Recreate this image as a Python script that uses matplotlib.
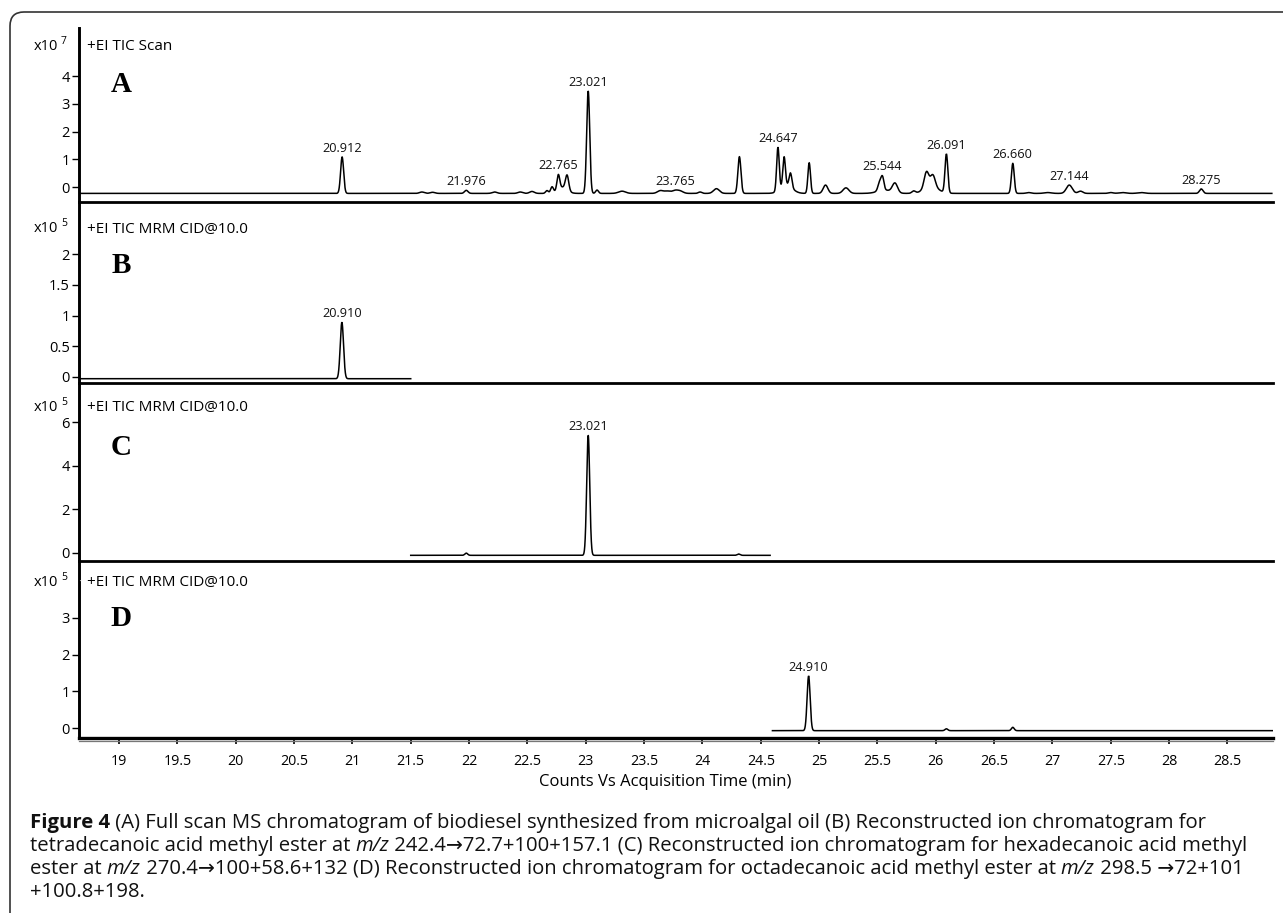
import numpy as np
import matplotlib
matplotlib.use("Agg")
import matplotlib.pyplot as plt
from matplotlib.patches import FancyBboxPatch
from matplotlib.lines import Line2D
from matplotlib.transforms import IdentityTransform

plt.rcParams['font.family'] = ['Open Sans', 'DejaVu Sans']

W, H, DPI = 1283, 913, 100

# ------------------------------------------------------------------ data
x_ticks = [19, 19.5, 20, 20.5, 21, 21.5, 22, 22.5, 23, 23.5, 24, 24.5,
           25, 25.5, 26, 26.5, 27, 27.5, 28, 28.5]
x_tick_labels = ['19', '19.5', '20', '20.5', '21', '21.5', '22', '22.5', '23',
                 '23.5', '24', '24.5', '25', '25.5', '26', '26.5', '27',
                 '27.5', '28', '28.5']
x_label = 'Counts Vs Acquisition Time (min)'

# Panel A: full scan TIC (x10^7) - peak table: retention time, height above baseline, width
a_rt = [20.912, 21.596, 21.687, 21.976, 22.219, 22.439, 22.539, 22.668, 22.711,
        22.765, 22.800, 22.840, 23.021, 23.097, 23.311, 23.640, 23.700, 23.765,
        23.810, 23.980, 24.120, 24.317, 24.647, 24.700, 24.720, 24.755, 24.915,
        25.055, 25.230, 25.520, 25.544, 25.560, 25.650, 25.810, 25.920, 25.960,
        25.975, 26.091, 26.660, 26.796, 26.960, 27.144, 27.240, 27.500, 27.600,
        27.760, 28.275]
a_height = [1.31, 0.05, 0.04, 0.11, 0.05, 0.05, 0.07, 0.10, 0.22,
            0.53, 0.22, 0.53, 3.69, 0.12, 0.08, 0.10, 0.08, 0.10,
            0.08, 0.05, 0.17, 1.32, 1.56, 1.04, 0.30, 0.50, 1.10,
            0.30, 0.20, 0.32, 0.42, 0.12, 0.34, 0.08, 0.58, 0.25,
            0.42, 1.40, 1.08, 0.03, 0.03, 0.30, 0.08, 0.03, 0.03,
            0.03, 0.16]
a_width = [0.013, 0.02, 0.02, 0.015, 0.02, 0.02, 0.02, 0.012, 0.012,
           0.012, 0.04, 0.014, 0.013, 0.012, 0.03, 0.025, 0.025, 0.025,
           0.025, 0.015, 0.025, 0.013, 0.011, 0.011, 0.05, 0.012, 0.011,
           0.02, 0.025, 0.015, 0.012, 0.06, 0.022, 0.015, 0.02, 0.06,
           0.02, 0.012, 0.012, 0.02, 0.03, 0.025, 0.02, 0.02, 0.03,
           0.03, 0.015]
a_baseline = -0.23
a_span = (18.66, 28.88)
a_peak_labels = ['20.912', '21.976', '22.765', '23.021', '23.765', '24.647',
                 '25.544', '26.091', '26.660', '27.144', '28.275']

# Panel B: MRM (x10^5)
b_rt = [20.910]
b_height = [0.92]
b_width = [0.014]
b_baseline = -0.03
b_span = (18.66, 21.5)
b_peak_labels = ['20.910']

# Panel C: MRM (x10^5)
c_rt = [21.976, 23.021, 24.310]
c_height = [0.10, 5.50, 0.06]
c_width = [0.012, 0.013, 0.012]
c_baseline = -0.11
c_span = (21.5, 24.58)
c_peak_labels = ['23.021']

# Panel D: MRM (x10^5)
d_rt = [24.910, 26.091, 26.660]
d_height = [1.49, 0.05, 0.09]
d_width = [0.013, 0.012, 0.012]
d_baseline = -0.07
d_span = (24.60, 28.89)
d_peak_labels = ['24.910']

panel_titles = ['+EI TIC Scan', '+EI TIC MRM CID@10.0', '+EI TIC MRM CID@10.0',
                '+EI TIC MRM CID@10.0']
panel_letters = ['A', 'B', 'C', 'D']
panel_exponents = ['7', '5', '5', '5']
a_yticks = [0, 1, 2, 3, 4]
b_yticks = [0, 0.5, 1, 1.5, 2]
c_yticks = [0, 2, 4, 6]
d_yticks = [0, 1, 2, 3]

caption_lines = [
    [("Figure 4", 'b'), (" (A) Full scan MS chromatogram of biodiesel synthesized from microalgal oil (B) Reconstructed ion chromatogram for", 'n')],
    [("tetradecanoic acid methyl ester at ", 'n'), ("m/z", 'i'), (" 242.4\u219272.7+100+157.1 (C) Reconstructed ion chromatogram for hexadecanoic acid methyl", 'n')],
    [("ester at ", 'n'), ("m/z", 'i'), (" 270.4\u2192100+58.6+132 (D) Reconstructed ion chromatogram for octadecanoic acid methyl ester at ", 'n'), ("m/z", 'i'), (" 298.5 \u219272+101", 'n')],
    [("+100.8+198.", 'n')],
]

# ------------------------------------------------------------------ layout (pixels)
ax_left, ax_right = 79, 1273
panel_px = [(28, 202), (202, 383), (383, 561), (561, 738)]
ylims = [(-0.54, 5.73), (-0.10, 2.85), (-0.37, 7.79), (-0.27, 4.55)]
xlim = (18.657, 28.89)
letter_y = [85, 265, 447, 618]
head_y = [46, 229, 407, 582]

fig = plt.figure(figsize=(W / DPI, H / DPI), dpi=DPI)

# rounded frame
frame = FancyBboxPatch((10, -60), 1400, (H - 12) + 60,
                       boxstyle="round,pad=0,rounding_size=14",
                       transform=IdentityTransform(), facecolor='none',
                       edgecolor='#333333', linewidth=1.2)
fig.add_artist(frame)


def trace(rts, hs, ws, base, span):
    x = np.linspace(span[0], span[1], 8000)
    y = np.full_like(x, base)
    for r, h, w in zip(rts, hs, ws):
        y += h * np.exp(-0.5 * ((x - r) / w) ** 2)
    return x, y


datasets = [
    (a_rt, a_height, a_width, a_baseline, a_span, a_peak_labels, a_yticks),
    (b_rt, b_height, b_width, b_baseline, b_span, b_peak_labels, b_yticks),
    (c_rt, c_height, c_width, c_baseline, c_span, c_peak_labels, c_yticks),
    (d_rt, d_height, d_width, d_baseline, d_span, d_peak_labels, d_yticks),
]

for i, ((top, bot), ylim, ds) in enumerate(zip(panel_px, ylims, datasets)):
    rts, hs, ws, base, span, labels, yt = ds
    ax = fig.add_axes([ax_left / W, 1 - bot / H, (ax_right - ax_left) / W, (bot - top) / H])
    ax.set_xlim(*xlim)
    ax.set_ylim(*ylim)
    x, y = trace(rts, hs, ws, base, span)
    ax.plot(x, y, color='black', lw=1.1, solid_joinstyle='miter')
    for lab in labels:
        r = float(lab)
        m = np.abs(x - r) < 0.03
        ytop = y[m].max()
        ax.annotate(lab, (r, ytop), xytext=(0, 1.5), textcoords='offset points',
                    ha='center', va='bottom', fontsize=9.2, color='#111111')
    ax.set_yticks(yt)
    ax.set_yticklabels([('%g' % v) for v in yt])
    ax.tick_params(axis='y', direction='out', length=5, width=1.0, pad=1.5,
                   labelsize=10.5, colors='black')
    for s in ['top', 'right']:
        ax.spines[s].set_visible(False)
    ax.spines['left'].set_linewidth(2.1)
    ax.spines['bottom'].set_linewidth(2.0 if i < 3 else 2.4)
    ax.patch.set_alpha(0)
    if i < 3:
        ax.tick_params(axis='x', bottom=False, labelbottom=False)
    else:
        ax.set_xticks(x_ticks)
        ax.set_xticklabels(x_tick_labels)
        ax.tick_params(axis='x', direction='out', length=4.5, width=1.2, pad=7,
                       labelsize=10.3)

    fig.text(58 / W, 1 - head_y[i] / H, 'x10', ha='right', va='center', fontsize=10.5)
    fig.text(61 / W, 1 - (head_y[i] - 5) / H, panel_exponents[i], ha='left',
             va='center', fontsize=7.5)
    fig.text(87 / W, 1 - head_y[i] / H, panel_titles[i], ha='left', va='center',
             fontsize=11)
    fig.text(121 / W, 1 - letter_y[i] / H, panel_letters[i], ha='center', va='center',
             family='Liberation Serif', weight='bold', fontsize=21)

# faint dot before the last panel title
fig.text(80 / W, 1 - 582 / H, '\u00b7', ha='center', va='center', fontsize=8, color='#aaaaaa')

# second, thinner grey line under the time axis
fig.add_artist(Line2D([ax_left / W, ax_right / W], [1 - 741 / H, 1 - 741 / H],
                      transform=fig.transFigure, color='#777777', lw=0.9))

fig.text(665 / W, 1 - 782 / H, x_label, ha='center', va='center', fontsize=12)

# caption, drawn run by run; font size fitted so line 1 spans the reference width
renderer = fig.canvas.get_renderer()
cap_x0 = 30
cap_y = [823, 846, 869, 892]
target_w = 1172


def draw_caption(size):
    arts = []
    widths = []
    for line, yy in zip(caption_lines, cap_y):
        xpos = cap_x0
        for txt, style in line:
            kw = dict(fontsize=size, color='#111111', va='baseline', ha='left',
                      family=['Open Sans', 'DejaVu Sans'])
            if style == 'b':
                kw['weight'] = 'bold'
            if style == 'i':
                kw['style'] = 'italic'
            t = fig.text(xpos / W, 1 - (yy + 5) / H, txt, **kw)
            bb = t.get_window_extent(renderer=renderer)
            xpos = bb.x1
            arts.append(t)
        widths.append(xpos - cap_x0)
    return arts, widths


arts, widths = draw_caption(12.0)
size = 12.0 * target_w / widths[0]
for a in arts:
    a.remove()
draw_caption(size)

fig.savefig('out.png', dpi=DPI)
